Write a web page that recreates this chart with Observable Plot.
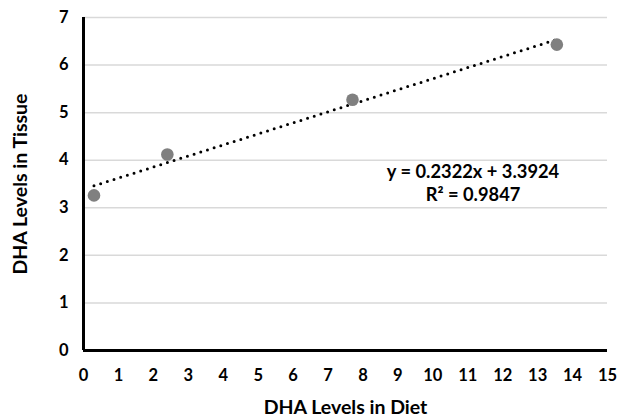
<!DOCTYPE html>
<html>
<head>
<meta charset="utf-8">
<script src="https://cdn.jsdelivr.net/npm/d3@7"></script>
<script src="https://cdn.jsdelivr.net/npm/@observablehq/plot@0.6"></script>
<style>
  html, body { margin: 0; padding: 0; background: #fff; }
  #chart { width: 623px; height: 417px; }
  svg { font-family: Lato, "Noto Sans", sans-serif; font-weight: bold; }
</style>
</head>
<body>
<div id="chart"></div>
<script>
// Data
const dietLevels = [0.3, 2.4, 7.7, 13.55];
const tissueLevels = [3.26, 4.12, 5.27, 6.43];
const xTicks = d3.range(0, 16, 1);
const yTicks = d3.range(0, 8, 1);
const slope = 0.2322;
const intercept = 3.3924;
const trendX = [0.3, 13.55];
const equationLines = ["y = 0.2322x + 3.3924", "R² = 0.9847"];
const equationX = [11.15, 11.15];
const equationY = [3.74, 3.26];
const xTitle = "DHA Levels in Diet";
const yTitle = "DHA Levels in Tissue";

const points = dietLevels.map((x, i) => ({x, y: tissueLevels[i]}));
const trend = trendX.map(x => ({x, y: slope * x + intercept}));
const labels = equationLines.map((t, i) => ({t, x: equationX[i], y: equationY[i]}));
const blank = () => "";

const chart = Plot.plot({
  width: 623,
  height: 417,
  marginLeft: 83,
  marginRight: 16,
  marginTop: 17,
  marginBottom: 67,
  style: {fontFamily: "Lato, 'Noto Sans', sans-serif", fontWeight: "bold", color: "#000", background: "#fff"},
  x: {domain: [0, 15]},
  y: {domain: [0, 7]},
  marks: [
    Plot.ruleY(yTicks.filter(d => d > 0), {stroke: "#d9d9d9", strokeWidth: 1.5}),
    Plot.axisX({ticks: xTicks, tickSize: 0, tickPadding: 19, fontSize: 16.5, label: null, tickFormat: d3.format("d")}),
    Plot.axisY({ticks: yTicks, tickSize: 0, tickPadding: 15, fontSize: 16.5, label: null, tickFormat: d3.format("d")}),
    Plot.axisX({ticks: [0], tickSize: 0, tickFormat: blank, fontSize: 19.5, label: xTitle, labelAnchor: "center", labelOffset: 63, labelArrow: "none"}),
    Plot.axisY({ticks: [0], tickSize: 0, tickFormat: blank, fontSize: 19.5, label: yTitle, labelAnchor: "center", labelOffset: 70, labelArrow: "none"}),
    Plot.ruleX([0], {stroke: "#000", strokeWidth: 3}),
    Plot.ruleY([0], {stroke: "#000", strokeWidth: 3}),
    Plot.line(trend, {x: "x", y: "y", stroke: "#000", strokeWidth: 3, strokeDasharray: "0 7", strokeLinecap: "round"}),
    Plot.dot(points, {x: "x", y: "y", r: 6.3, fill: "#808080", stroke: "none"}),
    Plot.text(labels, {x: "x", y: "y", text: "t", fontSize: 18.3, fontWeight: "bold", fill: "#000"})
  ]
});
document.getElementById("chart").appendChild(chart);
</script>
</body>
</html>
